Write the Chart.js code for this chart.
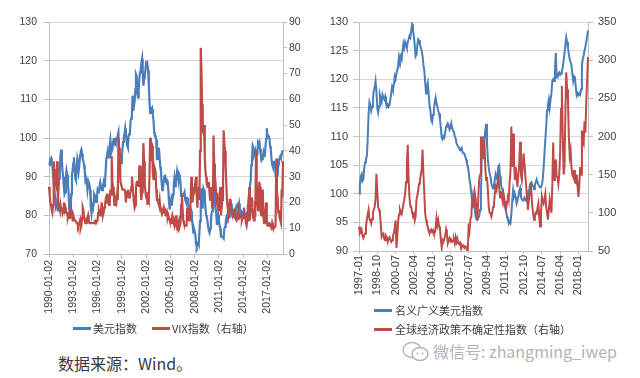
<!DOCTYPE html>
<html><head><meta charset="utf-8">
<script src="https://cdn.jsdelivr.net/npm/chart.js@4/dist/chart.umd.min.js"></script>
<style>
html,body{margin:0;padding:0;background:#fff;width:640px;height:378px;overflow:hidden;}
body{position:relative;font-family:"Noto Sans CJK SC","Noto Sans",sans-serif;}
#w1{position:absolute;left:0;top:0;width:320px;height:320px;}
#w2{position:absolute;left:320px;top:0;width:320px;height:320px;}
.lg{position:absolute;font-size:11px;color:#404040;white-space:nowrap;line-height:13px;}
.sw{position:absolute;height:3px;width:18px;}
#src{position:absolute;left:58px;top:353px;font-size:16px;line-height:20px;color:#3a3a3a;white-space:nowrap;}
#wm{position:absolute;left:433px;top:341px;font-size:16px;line-height:20px;color:#b3b3b3;white-space:nowrap;}
#ic{position:absolute;left:402px;top:341px;}
</style></head>
<body>
<div id="w1"><canvas id="c1" width="320" height="320"></canvas></div>
<div id="w2"><canvas id="c2" width="320" height="320"></canvas></div>

<div class="sw" style="left:73px;top:327px;background:#4A7EBB"></div>
<div class="lg" style="left:93px;top:322px">美元指数</div>
<div class="sw" style="left:152px;top:327px;background:#BE4B48"></div>
<div class="lg" style="left:172px;top:322px">VIX指数（右轴）</div>

<div class="sw" style="left:374px;top:309px;background:#4A7EBB"></div>
<div class="lg" style="left:395px;top:304px">名义广义美元指数</div>
<div class="sw" style="left:374px;top:328px;background:#BE4B48"></div>
<div class="lg" style="left:395px;top:323px">全球经济政策不确定性指数（右轴）</div>

<div id="src">数据来源：Wind。</div>
<svg id="ic" width="28" height="22" viewBox="0 0 28 22">
  <ellipse cx="10" cy="9" rx="9" ry="7.5" fill="none" stroke="#b3b3b3" stroke-width="1.4"/>
  <ellipse cx="18" cy="13" rx="8" ry="6.5" fill="#fff" stroke="#b3b3b3" stroke-width="1.4"/>
  <circle cx="15.5" cy="12.5" r="1" fill="#b3b3b3"/><circle cx="20.5" cy="12.5" r="1" fill="#b3b3b3"/>
</svg>
<div id="wm">微信号: zhangming_iwep</div>

<script>
// ---------- Left chart: US Dollar index vs VIX (monthly, 1990-01 .. 2018-12) ----------
const leftTickLabels = ['1990-01-02','1993-01-02','1996-01-02','1999-01-02','2002-01-02','2005-01-02','2008-01-02','2011-01-02','2014-01-02','2017-01-02'];
const leftStartYear = 1990, leftEndYear = 2018;
const dxy = [
93.0,93.5,94.5,94.8,93.2,92.8,90.5,88.0,87.0,84.5,82.5,83.2,
82.5,81.0,86.5,89.5,91.0,95.5,97.0,94.5,91.5,90.0,87.5,85.5,
86.0,89.5,91.5,90.5,88.0,86.0,81.5,79.5,80.5,85.5,90.5,91.5,
93.5,95.0,92.5,89.5,89.0,91.5,94.5,93.5,91.5,93.0,95.5,96.5,
97.0,96.0,94.5,94.0,93.0,91.5,89.0,89.5,88.5,86.5,88.0,88.5,
88.0,86.5,82.0,80.5,82.5,82.0,82.5,85.5,85.0,83.5,83.5,84.5,
86.5,86.0,86.5,87.5,88.5,88.5,86.5,86.5,87.5,88.5,87.5,88.5,
91.5,94.5,94.5,96.5,95.0,95.0,98.0,99.5,97.5,96.5,97.0,99.0,
100.0,99.0,99.5,99.0,99.5,100.0,100.0,101.5,96.0,92.0,94.0,93.5,
94.5,97.5,99.0,100.5,101.0,102.5,101.0,99.5,98.0,97.5,100.5,101.0,
101.5,104.5,105.0,106.5,111.0,107.0,107.0,109.5,112.5,116.5,116.0,111.5,
110.5,112.5,115.5,117.0,117.5,119.5,120.5,116.5,113.5,115.5,116.5,117.5,
119.5,120.0,119.0,117.5,113.5,109.5,106.5,107.5,107.0,107.5,106.0,104.5,
101.5,100.5,100.5,99.5,94.5,94.5,95.5,97.5,95.0,92.5,91.5,88.5,
86.5,87.0,88.5,90.0,90.5,89.0,88.5,89.0,88.5,86.5,83.5,81.5,
83.0,84.0,82.5,84.0,85.5,88.0,89.5,87.5,88.5,90.0,91.5,90.5,
89.0,90.5,90.0,88.5,85.0,85.5,85.5,85.0,85.5,86.0,84.0,83.5,
84.5,84.5,83.5,82.0,82.0,82.0,80.5,81.0,79.0,77.5,75.5,76.5,
75.8,75.0,72.5,72.0,72.8,73.0,72.5,75.5,78.5,82.5,87.0,82.0,
84.0,87.0,86.5,84.5,82.0,80.0,79.5,78.5,77.0,76.0,75.5,76.5,
78.0,80.5,81.0,81.5,85.5,87.0,83.0,82.0,80.5,77.5,78.5,80.0,
78.5,77.5,76.5,74.5,74.5,74.5,74.5,74.0,76.5,77.0,78.0,79.5,
80.0,79.0,79.5,79.5,81.5,82.5,83.0,82.0,79.8,79.6,80.4,79.8,
79.6,80.4,82.5,82.5,83.3,82.0,83.0,81.6,81.0,79.7,80.7,80.4,
80.8,80.5,80.0,79.9,79.9,80.5,80.8,82.0,84.5,85.8,87.6,88.9,
93.0,94.5,98.0,97.5,95.5,95.5,96.8,95.6,95.7,95.8,98.9,98.6,
99.0,97.2,95.7,94.2,94.5,95.0,96.2,95.3,95.4,97.7,99.8,102.5,
100.8,100.6,100.4,99.8,97.8,96.8,94.5,93.0,92.5,93.8,93.8,93.3,
90.6,89.5,89.8,90.5,93.2,94.5,94.6,95.2,94.8,95.7,96.6,96.8];
const vix = [
26,23,20,19,17,16,19,36,31,33,27,26,
36,22,19,18,17,19,17,18,16,17,20,17,
18,16,16,16,14,15,14,15,15,17,15,13,
13,14,13,13,13,12,12,11,12,12,13,10,
11,14,18,17,14,14,12,12,14,14,15,13,
12,12,12,12,12,12,12,12,13,13,12,12,
13,16,17,16,15,16,20,17,15,16,18,19,
21,20,23,23,20,19,20,25,23,38,28,26,
24,19,19,21,20,23,21,45,41,39,28,27,
27,25,25,25,25,24,20,24,24,25,22,22,
23,24,26,30,27,23,20,18,19,26,28,28,
28,26,34,34,24,21,24,26,43,36,27,24,
22,24,19,22,21,30,45,36,43,42,31,29,
29,33,32,25,21,21,20,19,21,18,17,17,
16,16,18,16,18,15,15,16,14,15,14,13,
13,12,13,15,14,12,11,13,12,15,12,11,
12,13,11,12,19,23,18,13,12,11,11,11,
11,18,16,13,13,16,20,30,22,20,26,23,
26,28,30,23,18,24,26,21,40,80,72,58,
48,47,50,38,32,30,27,26,26,28,24,21,
22,26,18,19,46,35,26,27,23,21,22,17,
19,20,26,15,18,21,25,48,43,40,34,27,
20,18,15,17,21,21,17,16,15,16,16,17,
14,14,13,14,14,17,14,14,15,15,13,14,
14,18,16,15,12,11,13,16,15,26,13,19,
22,18,16,14,13,18,17,40,28,20,17,22,
28,26,16,15,15,25,14,12,17,17,20,13,
11,11,12,12,11,11,10,12,11,10,10,10,
11,37,24,22,16,17,14,13,12,25,22,36];

// ---------- Right chart: Broad dollar index vs Global EPU (monthly, 1997-01 .. 2018-12) ----------
const rightTickLabels = ['1997-01','1998-10','2000-07','2002-04','2004-01','2005-10','2007-07','2009-04','2011-01','2012-10','2014-07','2016-04','2018-01'];
const rightStartYear = 1997, rightEndYear = 2018;
const broadUSD = [
100.0,101.5,103.0,103.4,102.2,102.5,104.5,105.5,106.2,106.5,109.5,114.0,
116.0,115.5,114.5,115.2,116.5,118.0,118.6,119.7,118.0,115.0,114.2,115.3,
117.2,116.5,116.0,117.3,116.8,116.5,117.0,115.8,115.2,115.6,115.2,115.5,
116.5,117.5,118.7,118.2,119.0,120.5,120.0,121.0,121.6,122.5,124.0,123.3,
124.0,123.5,125.0,126.2,125.5,126.5,126.0,125.5,126.5,127.0,127.6,127.3,
128.5,129.6,128.5,127.5,126.0,124.0,124.3,126.0,127.0,126.8,126.0,125.5,
125.0,124.0,122.5,121.5,119.5,117.5,118.5,119.3,117.5,115.5,114.5,112.9,
112.5,113.8,114.8,116.0,116.8,115.8,115.2,114.5,114.0,113.0,111.5,109.8,
109.5,110.0,109.8,110.8,111.7,112.0,112.3,112.0,111.2,111.5,112.3,111.5,
111.0,110.8,110.0,109.7,108.8,108.5,108.2,108.0,107.6,107.8,108.0,107.2,
107.1,107.0,106.5,106.0,105.3,104.8,103.8,102.4,101.5,100.0,98.6,99.8,
98.5,97.2,96.0,95.5,95.4,95.8,96.0,97.2,99.5,106.5,110.0,108.8,
109.5,111.0,112.2,109.0,106.0,104.5,103.6,103.0,101.8,101.3,100.9,101.5,
102.5,103.5,103.0,102.5,104.8,105.0,103.0,101.5,101.0,100.6,99.0,97.8,
97.5,96.8,96.0,95.5,94.8,95.2,94.9,96.5,98.8,100.6,99.5,100.0,
99.5,98.3,98.8,99.5,100.5,101.0,99.5,99.0,98.8,98.8,99.3,99.0,
98.8,99.5,100.2,100.0,101.3,101.8,102.0,101.5,101.3,100.8,101.5,102.0,
102.5,102.0,101.6,101.3,101.1,101.2,101.5,102.5,104.5,107.0,109.5,111.7,
114.6,115.5,116.4,115.0,116.5,117.5,119.7,120.0,119.7,121.5,124.6,120.3,
120.3,121.0,121.2,120.8,121.0,121.6,122.0,123.3,124.5,126.0,127.3,126.5,
125.4,124.4,123.5,123.0,122.5,121.0,119.7,120.5,120.3,118.5,117.2,117.6,
117.2,117.5,117.3,118.2,122.5,123.5,124.2,125.0,125.7,126.5,127.5,128.5];
const gepu = [
82,73,75,78,70,67,70,73,82,91,98,104,
92,90,86,92,100,104,108,118,151,128,108,104,
100,85,69,72,73,66,64,70,68,62,66,68,
65,62,64,70,73,80,90,54,70,90,98,104,
100,98,105,112,117,125,140,165,189,143,120,108,
108,100,97,99,90,95,117,122,130,138,143,150,
157,183,150,126,100,91,86,82,78,73,76,78,
75,77,73,74,80,93,84,90,82,79,65,54,
64,62,66,70,78,72,60,64,67,63,65,62,
63,65,60,68,62,66,60,59,61,56,58,56,
57,54,56,55,52,51,86,78,92,95,121,108,
110,126,118,100,91,120,143,150,200,187,195,170,
196,160,143,147,130,108,100,99,95,100,108,112,
125,134,130,139,150,134,120,128,121,115,125,118,
110,105,115,125,118,140,156,213,160,204,170,143,
160,145,134,150,165,193,150,143,160,178,165,150,
134,120,104,115,125,139,128,108,100,91,95,100,
99,106,112,95,82,100,121,115,112,118,125,108,
100,91,104,117,108,100,135,192,143,160,170,148,
147,138,150,180,236,266,200,150,160,230,284,262,
248,200,175,182,160,150,147,156,140,139,150,135,
121,135,160,150,208,195,191,220,205,245,274,304];

function monthLabels(y0, y1) {
  const out = [];
  for (let y = y0; y <= y1; y++) for (let m = 1; m <= 12; m++) out.push(y + '-' + String(m).padStart(2, '0'));
  return out;
}
const leftMonths = monthLabels(leftStartYear, leftEndYear);
const rightMonths = monthLabels(rightStartYear, rightEndYear);

const BLUE = '#4A7EBB', RED = '#BE4B48', GRID = '#d9d9d9', AXIS = '#bfbfbf', TXT = '#404040';

function fixW(w) { return s => { s.width = w; s.paddingTop = 0; s.paddingBottom = 0; }; }
function fixH(h) { return s => { s.height = h; s.paddingLeft = 0; s.paddingRight = 0; }; }

function makeChart(id, o) {
  return new Chart(document.getElementById(id), {
    type: 'line',
    data: {
      labels: o.labels,
      datasets: [
        { label: o.n1, data: o.d1, yAxisID: 'y', borderColor: BLUE, borderWidth: o.bw, pointRadius: 0, tension: 0, order: 2 },
        { label: o.n2, data: o.d2, yAxisID: 'y1', borderColor: RED, borderWidth: o.bw, pointRadius: 0, tension: 0, order: 1 }
      ]
    },
    options: {
      responsive: false, animation: false, devicePixelRatio: 1, events: [],
      layout: { autoPadding: false, padding: { top: 22, left: 0, right: 0, bottom: 0 } },
      plugins: { legend: { display: false }, tooltip: { enabled: false } },
      scales: {
        x: {
          type: 'category', offset: false,
          grid: { display: true, drawOnChartArea: false, drawTicks: true, tickLength: o.xTick, color: AXIS },
          border: { display: true, color: AXIS },
          ticks: { autoSkip: false, minRotation: 90, maxRotation: 90, padding: o.xPad, color: TXT,
                   font: { family: 'Liberation Sans', size: o.fs },
                   callback: (v, i) => (i % o.every === 0 ? o.tickLabels[i / o.every] : null) },
          afterFit: fixH(o.xH)
        },
        y: {
          position: 'left', min: o.yMin, max: o.yMax,
          grid: { color: GRID, tickLength: o.yTick, tickColor: AXIS },
          border: { display: true, color: AXIS },
          ticks: { stepSize: o.yStep, padding: o.yPad, color: TXT, font: { family: 'Liberation Sans', size: o.fs } },
          afterFit: fixW(o.yW)
        },
        y1: {
          position: 'right', min: o.y1Min, max: o.y1Max,
          grid: { drawOnChartArea: false, tickLength: o.y1Tick, color: AXIS },
          border: { display: true, color: AXIS },
          ticks: { stepSize: o.y1Step, padding: o.y1Pad, color: TXT, font: { family: 'Liberation Sans', size: o.fs } },
          afterFit: fixW(o.y1W)
        }
      }
    }
  });
}

makeChart('c1', {
  labels: leftMonths, d1: dxy, d2: vix, n1: '美元指数', n2: 'VIX指数（右轴）',
  tickLabels: leftTickLabels, every: 36, bw: 2.2, fs: 10.5,
  xTick: 4, xPad: 2, xH: 66,
  yMin: 70, yMax: 130, yStep: 10, yTick: 5, yPad: 7, yW: 49,
  y1Min: 0, y1Max: 90, y1Step: 10, y1Tick: 4, y1Pad: 2, y1W: 37
});
makeChart('c2', {
  labels: rightMonths, d1: broadUSD, d2: gepu, n1: '名义广义美元指数', n2: '全球经济政策不确定性指数（右轴）',
  tickLabels: rightTickLabels, every: 21, bw: 2, fs: 11,
  xTick: 3, xPad: 1, xH: 69,
  yMin: 90, yMax: 130, yStep: 5, yTick: 6, yPad: 5, yW: 39,
  y1Min: 50, y1Max: 350, y1Step: 50, y1Tick: 5, y1Pad: 5, y1W: 52
});
</script>
</body></html>
